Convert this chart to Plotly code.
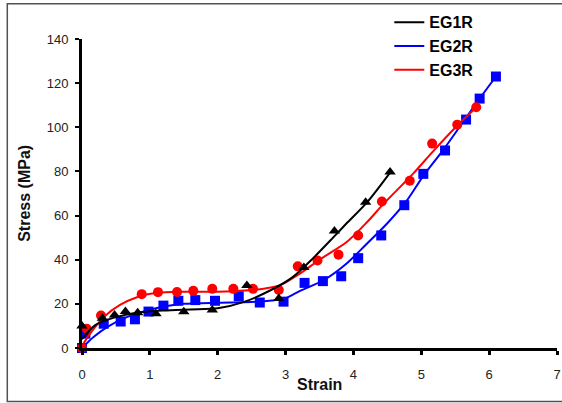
import plotly.graph_objects as go

# ---- data ----
# measured points (markers)
eg1r_x = [0.0, 0.3, 0.48, 0.64, 0.82, 1.09, 1.5, 1.92, 2.43, 2.9, 3.27, 3.72, 4.18, 4.54]
eg1r_y = [10, 13.5, 15, 16.5, 16, 15.5, 16.4, 17.2, 28.3, 22.4, 36.5, 53, 66, 79.7]

eg2r_x = [0.0, 0.05, 0.32, 0.57, 0.78, 0.98, 1.2, 1.42, 1.67, 1.96, 2.31, 2.62, 2.97,
          3.28, 3.55, 3.82, 4.07, 4.41, 4.75, 5.03, 5.35, 5.66, 5.86, 6.1]
eg2r_y = [0, 6.5, 11, 12, 13, 16.5, 19.2, 21.4, 21.7, 21.4, 23.5, 20.6, 21,
          29.5, 30.3, 32.5, 40.7, 51, 64.7, 78.9, 89.5, 103.5, 113, 123]

eg3r_x = [0.0, 0.07, 0.28, 0.88, 1.12, 1.4, 1.64, 1.92, 2.23, 2.52, 2.9, 3.18, 3.47,
          3.78, 4.07, 4.42, 4.83, 5.16, 5.53, 5.81]
eg3r_y = [0, 8.7, 14.7, 24.4, 25.3, 25.4, 25.9, 26.8, 26.8, 26.8, 26.3, 37, 39.7,
          42.3, 51, 66.4, 75.8, 92.6, 101.2, 109.1]

# trend lines
fit1_x = [0, 0.2, 0.5, 0.8, 1.2, 1.6, 2.0, 2.4, 2.8, 3.1, 3.4, 3.7, 3.9, 4.2, 4.54]
fit1_y = [4, 10.5, 14, 16, 17, 17.5, 18, 21, 26.5, 32, 40.5, 50, 56.5, 66, 79.5]

fit2_x = [0, 0.17, 0.37, 0.66, 0.96, 1.25, 1.5, 2.0, 2.5, 2.8, 3.0, 3.22, 3.56, 3.9,
          4.19, 4.5, 4.78, 5.03, 5.33, 5.63, 5.86, 6.1]
fit2_y = [0, 5, 9.5, 14, 17, 19, 20, 20.5, 20.8, 21.5, 22.5, 26, 30.7, 38.3,
          47, 56.5, 66.5, 78, 90, 103, 113, 123]

fit3_x = [0, 0.12, 0.32, 0.56, 0.81, 1.1, 1.5, 2.0, 2.4, 2.7, 2.92, 3.2, 3.5, 3.9,
          4.2, 4.45, 4.88, 5.17, 5.52, 5.83]
fit3_y = [1, 6.5, 14, 19.5, 23, 25, 25.5, 25.5, 26, 27, 28.5, 33.5, 40, 48,
          57, 65.5, 79, 89, 100.5, 109.5]

names = ["EG1R", "EG2R", "EG3R"]
colors = {"EG1R": "#000000", "EG2R": "#0000FF", "EG3R": "#FF0000"}
symbols = {"EG1R": "triangle-up", "EG2R": "square", "EG3R": "circle"}
sizes = {"EG1R": 10, "EG2R": 10, "EG3R": 10}
pts = {"EG1R": (eg1r_x, eg1r_y), "EG2R": (eg2r_x, eg2r_y), "EG3R": (eg3r_x, eg3r_y)}
fits = {"EG1R": (fit1_x, fit1_y), "EG2R": (fit2_x, fit2_y), "EG3R": (fit3_x, fit3_y)}

fig = go.Figure()
draw_order = ["EG2R", "EG3R", "EG1R"]
for n in draw_order:
    fx, fy = fits[n]
    fig.add_trace(go.Scatter(
        x=fx, y=fy, mode="lines", name="<b>" + n + "</b>",
        line=dict(color=colors[n], width=2, shape="spline", smoothing=0.8),
        legendrank=names.index(n) + 1, cliponaxis=False))
    px, py = pts[n]
    fig.add_trace(go.Scatter(
        x=px, y=py, mode="markers", showlegend=False,
        marker=dict(color=colors[n], symbol=symbols[n], size=sizes[n], line=dict(width=0)),
        cliponaxis=False))

L, R, T, B = 81.7, 556.7, 38.7, 348.0
W, H = 562, 403
pw, ph = R - L, B - T


def xp(px):
    return (px - L) / pw


def yp(py):
    return (B - py) / ph


tickfont = dict(family="Arial, Liberation Sans, sans-serif", size=13, color="#222222")
titlefont = dict(family="Arial, Liberation Sans, sans-serif", size=16, color="#111111")

fig.update_layout(
    width=W, height=H,
    margin=dict(l=L, r=W - R, t=T, b=H - B, pad=0, autoexpand=False),
    paper_bgcolor="white", plot_bgcolor="white",
    showlegend=True,
    legend=dict(x=xp(389), y=yp(5), xanchor="left", yanchor="top",
                bgcolor="rgba(0,0,0,0)", borderwidth=0,
                font=dict(family="Arial, Liberation Sans, sans-serif", size=16, color="black"),
                itemwidth=30, tracegroupgap=0),
    xaxis=dict(range=[0, 7], dtick=1, tick0=0, showgrid=False, zeroline=False,
               showline=True, linecolor="black", linewidth=3,
               ticks="outside", ticklen=4, tickwidth=3, tickcolor="black",
               tickfont=tickfont, ticklabelstandoff=8, automargin=False),
    yaxis=dict(range=[0, 140], dtick=20, tick0=0, showgrid=False, zeroline=False,
               showline=True, linecolor="black", linewidth=3,
               ticks="outside", ticklen=4, tickwidth=2, tickcolor="black",
               tickfont=tickfont, ticklabelstandoff=4, automargin=False),
    annotations=[
        dict(text="<b>Strain</b>", xref="paper", yref="paper", x=0.5, y=yp(385),
             showarrow=False, font=titlefont, xanchor="center", yanchor="middle"),
        dict(text="<b>Stress (MPa)</b>", xref="paper", yref="paper", x=xp(24), y=0.5,
             showarrow=False, font=titlefont, textangle=-90, xanchor="center", yanchor="middle"),
    ],
    shapes=[
        dict(type="rect", xref="paper", yref="paper",
             x0=xp(7), x1=xp(580), y0=yp(401.5), y1=yp(3.5),
             line=dict(color="#505050", width=1.5), fillcolor="rgba(0,0,0,0)", layer="below"),
    ],
)

fig.write_html("out.html",
               config={"displayModeBar": False},
               post_script="document.body.style.margin='0px';document.body.style.overflow='hidden';")
